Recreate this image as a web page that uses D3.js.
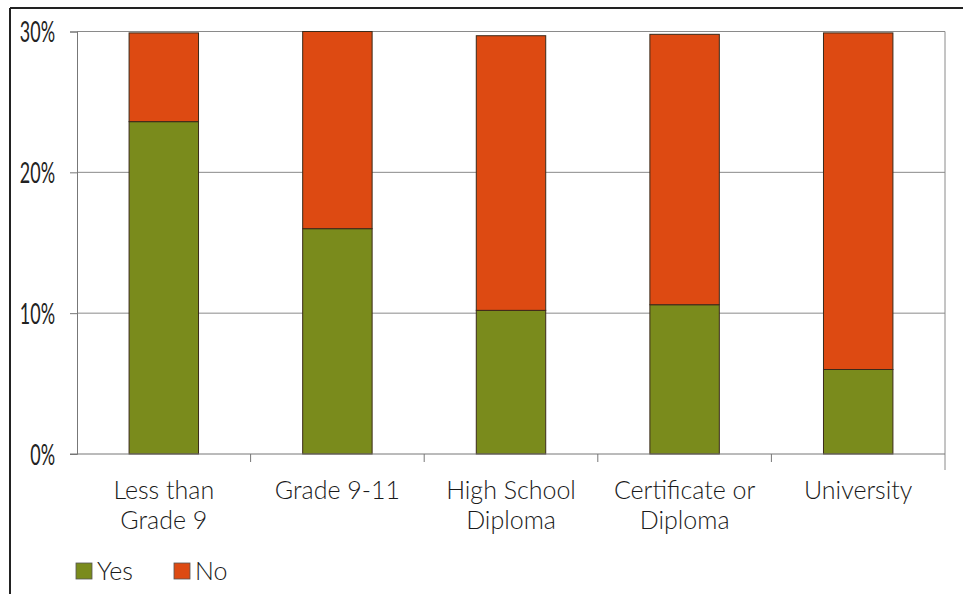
<!DOCTYPE html>
<html>
<head>
<meta charset="utf-8">
<script src="https://cdn.jsdelivr.net/npm/d3@7"></script>
<style>
  html, body { margin: 0; padding: 0; background: #fff; }
  svg { display: block; font-family: "Lato", "Open Sans", sans-serif; }
</style>
</head>
<body>
<svg id="chart" width="963" height="594"></svg>
<script>
// Education level categories (two-line labels)
const categories = ["Less than|Grade 9", "Grade 9-11", "High School|Diploma", "Certificate or|Diploma", "University"];
// Share answering "Yes" / "No" per category (percent)
const yesValues = [23.6, 16.0, 10.2, 10.6, 6.0];
const noValues  = [6.3, 14.0, 19.5, 19.2, 23.9];
const seriesNames = ["Yes", "No"];
const seriesColors = ["#7a8b1c", "#dd4a12"];
const yTicks = [0, 10, 20, 30];

const svg = d3.select("#chart");
const margin = { left: 77, right: 18, top: 31.5, bottom: 140 };
const W = 963, H = 594;

const x = d3.scaleBand()
  .domain(categories)
  .range([margin.left, W - margin.right])
  .paddingInner(0.6)
  .paddingOuter(0.3);

const y = d3.scaleLinear()
  .domain([0, 30])
  .range([454, margin.top]);

// outer frame (top and left edges)
svg.append("line").attr("x1", 10).attr("x2", W).attr("y1", 8).attr("y2", 8)
  .attr("stroke", "#222").attr("stroke-width", 2);
svg.append("line").attr("x1", 10).attr("x2", 10).attr("y1", 8).attr("y2", H)
  .attr("stroke", "#222").attr("stroke-width", 2);

// horizontal gridlines
const x0 = margin.left, x1 = W - margin.right;
svg.append("g").selectAll("line").data(yTicks.filter(d => d > 0)).join("line")
  .attr("x1", x0).attr("x2", x1)
  .attr("y1", d => y(d)).attr("y2", d => y(d))
  .attr("stroke", "#8a8a8a").attr("stroke-width", 1);

// right border of plot area
svg.append("line").attr("x1", x1).attr("x2", x1).attr("y1", y(30)).attr("y2", 470)
  .attr("stroke", "#8a8a8a").attr("stroke-width", 1);

// stacked bars
const rows = categories.map((c, i) => ({ cat: c, Yes: yesValues[i], No: noValues[i] }));
const stack = d3.stack().keys(seriesNames)(rows);
svg.append("g").selectAll("g").data(stack).join("g")
  .attr("fill", (d, i) => seriesColors[i])
  .selectAll("rect").data(d => d).join("rect")
  .attr("x", d => x(d.data.cat))
  .attr("width", x.bandwidth())
  .attr("y", d => y(d[1]))
  .attr("height", d => y(d[0]) - y(d[1]))
  .attr("stroke", "#3a2a1a").attr("stroke-width", 1);

// y axis with narrowed tick labels
const yAxis = svg.append("g")
  .attr("transform", `translate(${x0},0)`)
  .call(d3.axisLeft(y).tickValues(yTicks).tickFormat(d => d + "%").tickSize(7).tickPadding(14));
yAxis.attr("font-family", null);
yAxis.select(".domain").attr("stroke", "#777");
yAxis.selectAll(".tick line").attr("stroke", "#777");
const sx = 0.64;
yAxis.selectAll("text")
  .attr("font-family", "Lato, sans-serif")
  .attr("font-size", 28).attr("fill", "#222").attr("font-weight", 400)
  .attr("x", -22 / sx)
  .attr("dy", "0.36em")
  .attr("transform", `scale(${sx},1)`);

// x axis baseline and category separators
svg.append("line").attr("x1", x0 - 7).attr("x2", x1).attr("y1", y(0)).attr("y2", y(0))
  .attr("stroke", "#777");
const step = x.step();
const seps = d3.range(1, categories.length).map(i => x(categories[i]) - step * x.paddingInner() / 2);
svg.append("g").selectAll("line").data(seps).join("line")
  .attr("x1", d => d).attr("x2", d => d)
  .attr("y1", y(0)).attr("y2", y(0) + 8)
  .attr("stroke", "#777");

// category labels
const labels = svg.append("g").selectAll("text").data(categories).join("text")
  .attr("text-anchor", "middle")
  .attr("font-size", 25)
  .attr("font-weight", 300)
  .attr("fill", "#1a1a1a")
  .attr("transform", d => `translate(${x(d) + x.bandwidth() / 2},499)`);
labels.selectAll("tspan").data(d => d.split("|")).join("tspan")
  .attr("x", 0).attr("dy", (d, i) => i === 0 ? 0 : 30)
  .text(d => d);

// legend
const legend = svg.append("g").selectAll("g").data(seriesNames).join("g")
  .attr("transform", (d, i) => `translate(${76 + i * 98},563)`);
legend.append("rect").attr("width", 16).attr("height", 16)
  .attr("fill", (d, i) => seriesColors[i]).attr("stroke", "#555").attr("stroke-width", 0.8);
legend.append("text").attr("x", 21).attr("y", 17)
  .attr("font-size", 25).attr("font-weight", 300).attr("fill", "#1a1a1a").text(d => d);
</script>
</body>
</html>
